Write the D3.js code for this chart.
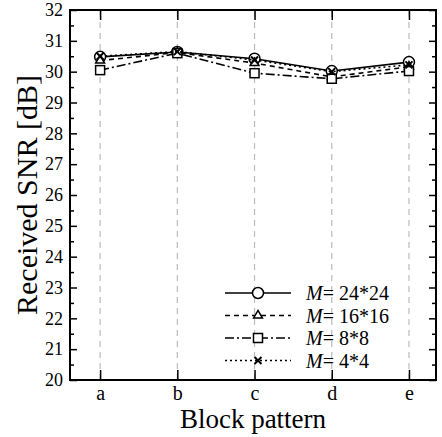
<!DOCTYPE html>
<html>
<head>
<meta charset="utf-8">
<script src="https://cdn.jsdelivr.net/npm/d3@7"></script>
<style>
  body { margin: 0; background: #fff; }
  svg text { font-family: "Times New Roman", "Liberation Serif", Times, serif; fill: #000; }
</style>
</head>
<body>
<div id="graph"></div>
<script>
const width = 442;
const height = 437;
const margin = {left: 70, right: 6, top: 10, bottom: 57};
const serif = '"Times New Roman", "Liberation Serif", Times, serif';

const categories = ['a', 'b', 'c', 'd', 'e'];
const yTicks = d3.range(20, 33, 1);

const seriesNames = ['24*24', '16*16', '8*8', '4*4'];
const snr24 = [30.48, 30.64, 30.42, 30.02, 30.31];
const snr16 = [30.36, 30.62, 30.28, 29.83, 30.16];
const snr8  = [30.05, 30.60, 29.95, 29.77, 30.02];
const snr4  = [30.50, 30.65, 30.38, 30.00, 30.22];

const styles = [
  {dash: null, marker: 'circle'},
  {dash: '5,4', marker: 'triangle'},
  {dash: '9,3,2,3', marker: 'square'},
  {dash: '2,3', marker: 'cross'}
];

const series = [snr24, snr16, snr8, snr4].map((values, i) =>
  ({name: seriesNames[i], values, ...styles[i]}));

const svg = d3.select('#graph').append('svg')
  .attr('width', width).attr('height', height)
  .attr('font-family', serif);

const x = d3.scaleLinear().domain([0.61, 5.35])
  .range([margin.left, width - margin.right]);
const y = d3.scaleLinear().domain([20, 32])
  .range([height - margin.bottom, margin.top]);

const x0 = x.range()[0], x1 = x.range()[1];
const y0 = y.range()[0], y1 = y.range()[1];

// vertical dashed grid
svg.append('g').selectAll('line').data(categories).enter().append('line')
  .attr('x1', (d, i) => x(i + 1)).attr('x2', (d, i) => x(i + 1))
  .attr('y1', y0).attr('y2', y1)
  .attr('stroke', '#bbb').attr('stroke-width', 1.2).attr('stroke-dasharray', '6,5');

// left / right axes, inward ticks
const minor = d3.range(20.5, 32, 1);
const left = svg.append('g').attr('transform', `translate(${x0},0)`)
  .call(d3.axisLeft(y).tickValues(yTicks).tickSize(-7).tickPadding(7).tickFormat(d3.format('d')));
left.selectAll('text').style('font-size', '18px');
svg.append('g').attr('transform', `translate(${x0},0)`)
  .call(d3.axisLeft(y).tickValues(minor).tickSize(-4).tickFormat(''));
svg.append('g').attr('transform', `translate(${x1},0)`)
  .call(d3.axisRight(y).tickValues(yTicks).tickSize(-7).tickFormat(''));
svg.append('g').attr('transform', `translate(${x1},0)`)
  .call(d3.axisRight(y).tickValues(minor).tickSize(-4).tickFormat(''));

// bottom and top axes
const xAxis = d3.axisBottom(x).tickValues([1, 2, 3, 4, 5])
  .tickSize(-10).tickPadding(5).tickFormat(d => categories[d - 1]);
const bottom = svg.append('g').attr('transform', `translate(0,${y0})`).call(xAxis);
bottom.selectAll('text').style('font-size', '20px').attr('dy', '0.75em');
svg.append('g').attr('transform', `translate(0,${y1})`)
  .call(d3.axisTop(x).tickValues([1, 2, 3, 4, 5]).tickSize(-10).tickFormat(''));

svg.selectAll('.domain').remove();
svg.selectAll('.tick line').attr('stroke', '#000').attr('stroke-width', 1.5);
svg.selectAll('g').attr('font-family', serif);

// frame
svg.append('rect')
  .attr('x', x0).attr('y', y1).attr('width', x1 - x0).attr('height', y0 - y1)
  .attr('fill', 'none').attr('stroke', '#000').attr('stroke-width', 2);

// axis titles
svg.append('text')
  .attr('transform', translate(37, (y0 + y1) / 2) + ' rotate(-90)')
  .attr('text-anchor', 'middle').style('font-size', '30px')
  .text('Received SNR [dB]');
svg.append('text')
  .attr('x', (x0 + x1) / 2).attr('y', height - 9)
  .attr('text-anchor', 'middle').style('font-size', '27px')
  .text('Block pattern');

// lines + markers
const line = d3.line().x((d, i) => x(i + 1)).y(d => y(d));

function drawMarker(g, type) {
  if (type === 'circle') {
    g.append('circle').attr('r', 5.5).attr('fill', '#fff').attr('stroke', '#000').attr('stroke-width', 1.5);
  } else if (type === 'triangle') {
    g.append('path').attr('d', d3.symbol(d3.symbolTriangle, 34)())
      .attr('fill', '#fff').attr('stroke', '#000').attr('stroke-width', 1.5);
  } else if (type === 'square') {
    g.append('rect').attr('x', -4.5).attr('y', -4.5).attr('width', 9).attr('height', 9)
      .attr('fill', '#fff').attr('stroke', '#000').attr('stroke-width', 1.5);
  } else {
    g.append('path').attr('d', 'M-3.5,-3.5L3.5,3.5M-3.5,3.5L3.5,-3.5')
      .attr('stroke', '#000').attr('stroke-width', 2);
  }
}

const seriesG = svg.append('g').selectAll('g').data(series).enter().append('g');
seriesG.append('path')
  .attr('d', d => line(d.values))
  .attr('fill', 'none').attr('stroke', '#000').attr('stroke-width', 1.6)
  .attr('stroke-dasharray', d => d.dash);
seriesG.each(function (s) {
  d3.select(this).selectAll('g.mk').data(s.values).enter().append('g')
    .attr('class', 'mk')
    .attr('transform', (d, i) => translate(x(i + 1), y(d)))
    .each(function () { drawMarker(d3.select(this), s.marker); });
});

// legend
const legend = svg.append('g').selectAll('g').data(series).enter().append('g')
  .attr('transform', (d, i) => translate(225, 293 + i * 22.5));
legend.append('line')
  .attr('x1', 0).attr('x2', 66).attr('y1', 0).attr('y2', 0)
  .attr('stroke', '#000').attr('stroke-width', 1.6)
  .attr('stroke-dasharray', d => d.dash);
legend.append('g').attr('transform', translate(33, 0))
  .each(function (d) { drawMarker(d3.select(this), d.marker); });
const lt = legend.append('text').attr('x', 81).attr('y', 7).style('font-size', '20px');
lt.append('tspan').style('font-style', 'italic').text('M');
lt.append('tspan').text(d => '= ' + d.name);

function translate(a, b) {
  return 'translate(' + a + ',' + b + ')';
}
</script>
</body>
</html>
